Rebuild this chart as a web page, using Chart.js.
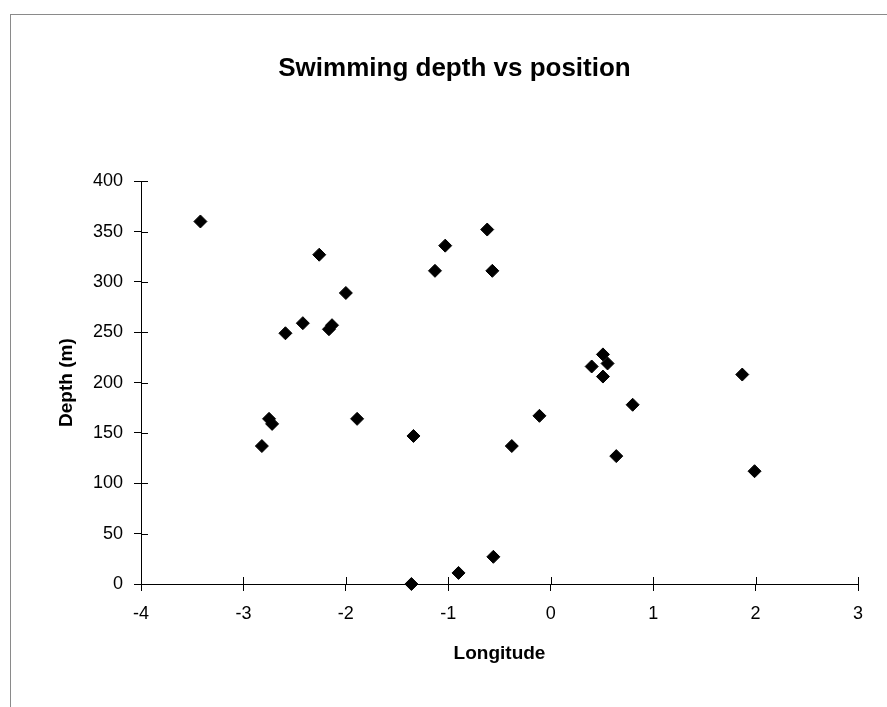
<!DOCTYPE html>
<html>
<head>
<meta charset="utf-8">
<script src="https://cdn.jsdelivr.net/npm/chart.js@4/dist/chart.umd.min.js"></script>
<style>
  html, body { margin: 0; padding: 0; background: #fff; }
  #wrap { width: 887px; height: 707px; position: relative; }
</style>
</head>
<body>
<div id="wrap"><canvas id="chart" width="887" height="707"></canvas></div>
<script>
// values
const longitude = [-3.42, -2.26, -2.0, -2.42, -2.59, -2.135, -2.165, -2.75, -2.72, -2.82, -1.89,
  -0.62, -1.03, -1.13, -0.57, 0.51, 0.555, 0.40, 0.51, 1.87, 0.80, -0.11, -1.34, -0.38, 0.64, 1.99,
  -0.56, -0.90, -1.36];
const depth = [360, 327, 289, 259, 249, 257, 253, 164, 159, 137, 164,
  352, 336, 311, 311, 228, 219, 216, 206, 208, 178, 167, 147, 137, 127, 112,
  27, 11, 0];

const chartTitle = 'Swimming depth vs position';
const xTitle = 'Longitude';
const yTitle = 'Depth (m)';

const points = longitude.map((x, i) => ({ x: x, y: depth[i] }));

const font = "'Liberation Sans', Arial, Helvetica, sans-serif";

// thin frame round the chart, like the original sheet
const frame = {
  id: 'frame',
  beforeDraw(chart) {
    const ctx = chart.ctx;
    ctx.save();
    ctx.strokeStyle = '#8a8a8a';
    ctx.lineWidth = 1;
    ctx.strokeRect(10.5, 14.5, 900, 720);
    ctx.restore();
  }
};

// excel style ticks cross the axis: draw the inner half too
const crossTicks = {
  id: 'crossTicks',
  afterDraw(chart) {
    const ctx = chart.ctx;
    const { x, y } = chart.scales;
    ctx.save();
    ctx.strokeStyle = '#000';
    ctx.lineWidth = 1;
    ctx.beginPath();
    x.ticks.forEach(t => {
      const px = Math.round(x.getPixelForValue(t.value)) + 0.5;
      ctx.moveTo(px, y.bottom - 7);
      ctx.lineTo(px, y.bottom);
    });
    y.ticks.forEach(t => {
      const py = Math.round(y.getPixelForValue(t.value)) + 0.5;
      ctx.moveTo(x.left, py);
      ctx.lineTo(x.left + 7, py);
    });
    ctx.stroke();
    ctx.restore();
  }
};

const ctx = document.getElementById('chart').getContext('2d');
new Chart(ctx, {
  type: 'scatter',
  data: {
    datasets: [{
      data: points,
      clip: false,
      pointStyle: 'rectRot',
      pointRadius: 6.5,
      pointBorderWidth: 1,
      backgroundColor: '#000',
      borderColor: '#000'
    }]
  },
  options: {
    responsive: false,
    animation: false,
    layout: { padding: { left: 51, right: 29, top: 0, bottom: 38 } },
    plugins: {
      legend: { display: false },
      tooltip: { enabled: false },
      title: {
        display: true,
        text: chartTitle,
        color: '#000',
        font: { family: font, size: 26, weight: 'bold' },
        padding: { top: 53, bottom: 97 }
      }
    },
    scales: {
      x: {
        type: 'linear',
        min: -4,
        max: 3,
        ticks: { stepSize: 1, color: '#000', padding: 12, font: { family: font, size: 18 } },
        grid: { drawOnChartArea: false, color: '#000', tickLength: 7, tickColor: '#000' },
        border: { color: '#000', width: 1 },
        title: { display: true, text: xTitle, color: '#000', font: { family: font, size: 19, weight: 'bold' } },
        afterFit(scale) { scale.height = 85; }
      },
      y: {
        min: 0,
        max: 400,
        ticks: { stepSize: 50, color: '#000', padding: 11, font: { family: font, size: 18 } },
        grid: { drawOnChartArea: false, color: '#000', tickLength: 7, tickColor: '#000' },
        border: { color: '#000', width: 1 },
        title: { display: true, text: yTitle, color: '#000', font: { family: font, size: 19, weight: 'bold' } },
        afterFit(scale) { scale.width = 90; }
      }
    }
  },
  plugins: [frame, crossTicks]
});
</script>
</body>
</html>
